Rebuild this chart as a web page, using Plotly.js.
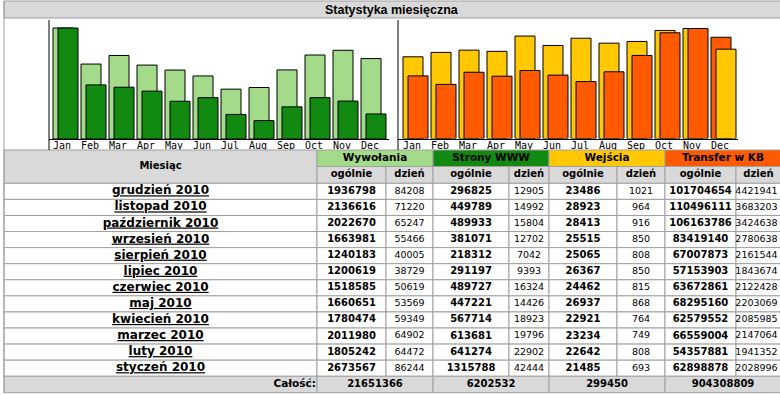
<!DOCTYPE html>
<html><head><meta charset="utf-8">
<script src="https://cdn.plot.ly/plotly-3.0.1.min.js"></script>
<style>html,body{margin:0;padding:0;background:#fff;}#chart{width:780px;height:395px;}</style>
</head><body><div id="chart"></div>
<script>
// ---------- data ----------
const chartTitle = 'Statystyka miesięczna';
const chartMonths = ['Jan','Feb','Mar','Apr','May','Jun','Jul','Aug','Sep','Oct','Nov','Dec'];
const tableMonths = ['grudzień 2010','listopad 2010','październik 2010','wrzesień 2010','sierpień 2010','lipiec 2010',
  'czerwiec 2010','maj 2010','kwiecień 2010','marzec 2010','luty 2010','styczeń 2010'];
const groupHeaders = ['Wywołania','Strony WWW','Wejścia','Transfer w KB'];
const subHeaders = ['ogólnie','dzień'];
const monthHeader = 'Miesiąc';
const totalLabel = 'Całość:';
const hitsTotal  = [1936798,2136616,2022670,1663981,1240183,1200619,1518585,1660651,1780474,2011980,1805242,2673567];
const hitsDay    = [84208,71220,65247,55466,40005,38729,50619,53569,59349,64902,64472,86244];
const pagesTotal = [296825,449789,489933,381071,218312,291197,489727,447221,567714,613681,641274,1315788];
const pagesDay   = [12905,14992,15804,12702,7042,9393,16324,14426,18923,19796,22902,42444];
const visitsTotal= [23486,28923,28413,25515,25065,26367,24462,26937,22921,23234,22642,21485];
const visitsDay  = [1021,964,916,850,808,850,815,868,764,749,808,693];
const kbTotal    = [101704654,110496111,106163786,83419140,67007873,57153903,63672861,68295160,62579552,66559004,54357881,62898878];
const kbDay      = [4421941,3683203,3424638,2780638,2161544,1843674,2122428,2203069,2085985,2147064,1941352,2028996];
const grandTotals= [21651366,6202532,299450,904308809];

// ---------- style / layout constants ----------
const C_LIGHTGREEN = '#A3DB8B', C_DARKGREEN = '#128A12', C_YELLOW = '#FFC800', C_ORANGE = '#FF5A00';
const GROUP_COLORS = [C_LIGHTGREEN, C_DARKGREEN, C_YELLOW, C_ORANGE];
const GRAY = '#D9D9D9', LINE = '#A0A0A0';
const W = 780, H = 395;
const px = x => x / W, py = y => 1 - y / H;
const FONT = 'DejaVu Sans';

// ---------- bar charts: each series scaled to its own maximum; taller bar drawn behind ----------
function pairTraces(A, B, colA, colB, xa, ya) {
  const mA = Math.max(...A), mB = Math.max(...B);
  const x = chartMonths.map((m, i) => i);
  const backY = [], frontY = [], backC = [], frontC = [];
  A.forEach((v, i) => {
    const a = v / mA, bb = B[i] / mB;
    if (a >= bb) { backY.push(a); backC.push(colA); frontY.push(bb); frontC.push(colB); }
    else { backY.push(bb); backC.push(colB); frontY.push(a); frontC.push(colA); }
  });
  const common = {type: 'bar', x, xaxis: xa, yaxis: ya, width: 20 / 28, hoverinfo: 'skip', showlegend: false};
  return [
    Object.assign({}, common, {y: backY, offset: -0.5, marker: {color: backC, line: {color: '#000', width: 1}}}),
    Object.assign({}, common, {y: frontY, offset: -0.5 + 5 / 28, marker: {color: frontC, line: {color: '#000', width: 1}}})
  ];
}
const rev = a => a.slice().reverse();
const traces = [
  ...pairTraces(rev(hitsTotal), rev(pagesTotal), C_LIGHTGREEN, C_DARKGREEN, 'x', 'y'),
  ...pairTraces(rev(visitsTotal), rev(kbTotal), C_YELLOW, C_ORANGE, 'x2', 'y2')
];

// ---------- table grid (pixel-unit axes x3/y3) ----------
const colEdges = [4, 317, 386, 433, 509, 549, 617, 665, 736, 781];
const tableTop = 150, groupBottom = 166.5, headBottom = 183.3, rowStep = 16.08;
const rowTop = i => headBottom + i * rowStep;
const totalTop = rowTop(tableMonths.length), totalBottom = totalTop + 16.4;
const shapes = [];
const rect = (x0, x1, y0, y1, fill) => shapes.push({type: 'rect', xref: 'x3', yref: 'y3', x0, x1, y0, y1,
  fillcolor: fill, line: {color: LINE, width: 1}, layer: 'below'});
rect(colEdges[0], colEdges[1], tableTop, headBottom, GRAY);
groupHeaders.forEach((g, k) => rect(colEdges[1 + 2 * k], colEdges[3 + 2 * k], tableTop, groupBottom, GROUP_COLORS[k]));
for (let c = 1; c < colEdges.length - 1; c++) rect(colEdges[c], colEdges[c + 1], groupBottom, headBottom, GRAY);
tableMonths.forEach((m, i) => { for (let c = 0; c < colEdges.length - 1; c++) rect(colEdges[c], colEdges[c + 1], rowTop(i), rowTop(i + 1), '#fff'); });
rect(colEdges[0], colEdges[1], totalTop, totalBottom, GRAY);
groupHeaders.forEach((g, k) => rect(colEdges[1 + 2 * k], colEdges[3 + 2 * k], totalTop, totalBottom, GRAY));

const colCenter = c => (colEdges[c] + colEdges[c + 1]) / 2;
const groupCenter = k => (colEdges[1 + 2 * k] + colEdges[3 + 2 * k]) / 2;
const rowMid = i => (rowTop(i) + rowTop(i + 1)) / 2;
function textTrace(x, y, text, font, pos) {
  return {type: 'scatter', mode: 'text', xaxis: 'x3', yaxis: 'y3', x, y, text, textposition: pos || 'middle center',
    textfont: Object.assign({family: FONT, color: '#000'}, font), hoverinfo: 'skip', showlegend: false, cliponaxis: false};
}
traces.push(textTrace([colCenter(0)], [(tableTop + headBottom) / 2], [monthHeader], {size: 10, weight: 'bold'}));
traces.push(textTrace(groupHeaders.map((g, k) => groupCenter(k)), groupHeaders.map(() => (tableTop + groupBottom) / 2), groupHeaders, {size: 10.5, weight: 'bold'}));
const subX = [], subY = [], subT = [];
groupHeaders.forEach((g, k) => subHeaders.forEach((s, j) => { subX.push(colCenter(1 + 2 * k + j)); subY.push((groupBottom + headBottom) / 2); subT.push(s); }));
traces.push(textTrace(subX, subY, subT, {size: 10, weight: 'bold'}));
traces.push(textTrace(tableMonths.map(() => colCenter(0)), tableMonths.map((m, i) => rowMid(i)), tableMonths,
  {size: 12, weight: 'bold', lineposition: 'under'}));
const bodyCols = [hitsTotal, hitsDay, pagesTotal, pagesDay, visitsTotal, visitsDay, kbTotal, kbDay];
bodyCols.forEach((col, j) => {
  traces.push(textTrace(col.map(() => colCenter(1 + j) - (j === 7 ? 2 : 0)), col.map((v, i) => rowMid(i)), col.map(String),
    j % 2 === 0 ? {size: 10, weight: 'bold'} : {size: 9.5, weight: 'normal'}));
});
traces.push(textTrace([colEdges[1] - 1], [(totalTop + totalBottom) / 2], [totalLabel], {size: 10.5, weight: 'bold'}, 'middle left'));
traces.push(textTrace(grandTotals.map((v, k) => groupCenter(k)), grandTotals.map(() => (totalTop + totalBottom) / 2), grandTotals.map(String), {size: 10, weight: 'bold'}));

// ---------- frame ----------
shapes.push(
  {type: 'rect', xref: 'paper', yref: 'paper', x0: px(4), x1: px(781), y0: py(18), y1: py(1), fillcolor: GRAY, line: {color: LINE, width: 1}, layer: 'below'},
  {type: 'line', xref: 'paper', yref: 'paper', x0: px(4), x1: px(4), y0: py(393), y1: py(1), line: {color: LINE, width: 1}},
  {type: 'line', xref: 'paper', yref: 'paper', x0: px(49), x1: px(49), y0: py(150), y1: py(20), line: {color: '#000', width: 1}},
  {type: 'line', xref: 'paper', yref: 'paper', x0: px(398), x1: px(398), y0: py(150), y1: py(20), line: {color: '#000', width: 1}}
);

const xAxisBase = {showgrid: false, zeroline: false, showline: true, linecolor: '#000', linewidth: 1,
  ticks: '', tickmode: 'array', tickvals: chartMonths.map((m, i) => i), ticktext: chartMonths,
  tickfont: {family: 'DejaVu Sans Mono', size: 10, color: '#000'}, ticklabelshift: -5, ticklabelstandoff: -3, fixedrange: true};
const yAxisBase = {showgrid: false, zeroline: false, showline: false, showticklabels: false, ticks: '', fixedrange: true};
const hidden = {visible: false, fixedrange: true};

const layout = {
  width: W, height: H, margin: {l: 0, r: 0, t: 0, b: 0}, paper_bgcolor: '#fff', plot_bgcolor: 'rgba(0,0,0,0)',
  barmode: 'overlay', showlegend: false,
  xaxis: Object.assign({}, xAxisBase, {domain: [px(49), px(389)], range: [-0.5 - 4 / 28, 11.5]}),
  yaxis: Object.assign({}, yAxisBase, {domain: [py(139), py(20)], range: [0, 119 / 111]}),
  xaxis2: Object.assign({}, xAxisBase, {domain: [px(398), px(738)], range: [-0.5 - 5 / 28, -0.5 - 5 / 28 + 340 / 28], anchor: 'y2'}),
  yaxis2: Object.assign({}, yAxisBase, {domain: [py(138.5), py(20.5)], range: [0, 118 / 110], anchor: 'x2'}),
  xaxis3: Object.assign({}, hidden, {domain: [0, 1], range: [0, W], anchor: 'y3'}),
  yaxis3: Object.assign({}, hidden, {domain: [0, 1], range: [H, 0], anchor: 'x3'}),
  shapes,
  annotations: [
    {xref: 'paper', yref: 'paper', x: px(392), y: py(10), text: '<b>' + chartTitle + '</b>', showarrow: false,
      font: {family: 'Liberation Sans', size: 12.5, color: '#000'}, xanchor: 'center', yanchor: 'middle'}
  ]
};
Plotly.newPlot('chart', traces, layout, {staticPlot: true, displayModeBar: false});
</script>
</body></html>
